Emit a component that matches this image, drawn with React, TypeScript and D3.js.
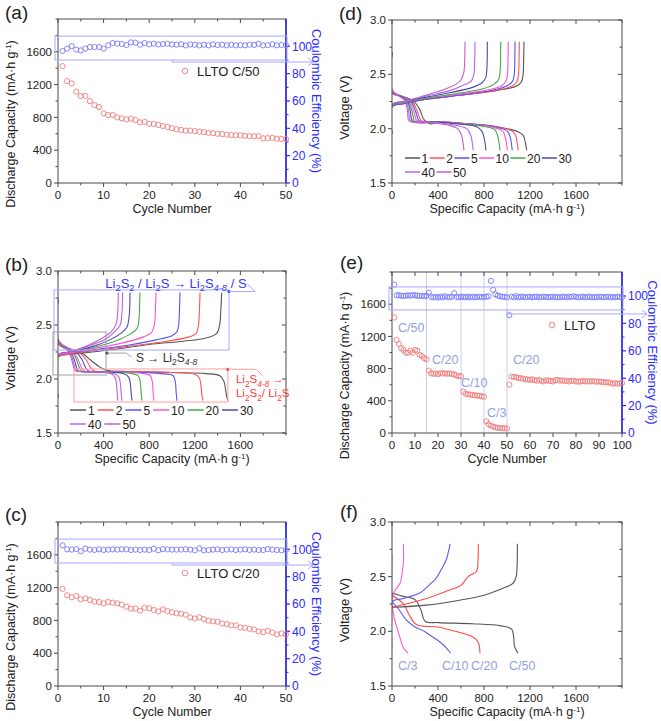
import React from "react";
import * as d3 from "d3";

type P = [number, number];
type Box = { x0: number; x1: number; y0: number; y1: number };

// ---------------- data ----------------
const capacityTicks = [0, 400, 800, 1200, 1600];
const ceTicks = [0, 20, 40, 60, 80, 100];
const cycleTicks50 = [0, 10, 20, 30, 40, 50];
const cycleTicks100 = [0, 10, 20, 30, 40, 50, 60, 70, 80, 90, 100];
const voltTicks = [1.5, 2.0, 2.5, 3.0];

const legendCycles = ["1", "2", "5", "10", "20", "30", "40", "50"];
const cycleColors = ["#555555", "#ff5252", "#5252ff", "#ff55d0", "#45a845", "#4b4ba8", "#b866e8", "#c460c8"];

// (a) LLTO C/50
const capA = [1425, 1243, 1214, 1113, 1060, 1062, 999, 950, 926, 849, 828, 830, 800, 788, 776, 784, 768, 740, 745, 722, 720, 708, 695, 683, 668, 655, 647, 638, 640, 633, 626, 620, 612, 607, 600, 596, 590, 585, 582, 580, 576, 572, 570, 572, 545, 548, 552, 540, 538, 536];
const ceA = [96.6, 98.3, 100.2, 97.6, 97.0, 98.3, 99.5, 99.5, 99.5, 98.3, 100.7, 102.4, 102.0, 101.7, 101.0, 102.9, 102.7, 101.2, 102.4, 101.5, 101.9, 101.4, 101.7, 101.9, 101.4, 101.2, 101.5, 100.7, 101.4, 101.2, 100.7, 101.2, 100.7, 101.4, 100.9, 101.2, 100.7, 101.2, 100.7, 100.9, 100.7, 101.2, 101.0, 101.9, 100.7, 100.9, 101.5, 100.7, 101.0, 100.8];

// (c) LLTO C/20
const capC = [1184, 1106, 1082, 1098, 1057, 1069, 1049, 1029, 1024, 1008, 1024, 1016, 1008, 992, 967, 943, 943, 918, 955, 947, 927, 910, 935, 914, 898, 886, 882, 869, 837, 824, 837, 816, 796, 788, 784, 763, 755, 739, 739, 714, 710, 698, 690, 665, 657, 673, 653, 629, 641, 629];
const ceC = [102.9, 100, 99.8, 100.2, 98.6, 100.5, 99.8, 99.5, 100, 99.5, 99.8, 100, 99.8, 100, 100, 99.5, 99.8, 99.5, 99.8, 99.5, 100.5, 99.3, 100.2, 100, 99.8, 99.8, 99.8, 100, 99.8, 99.3, 100.7, 99.3, 99.5, 99.8, 100, 99.5, 99.8, 100, 99.5, 99.8, 100, 99.5, 99.8, 99.5, 99.5, 100.2, 99.8, 99.5, 99.3, 99.5];

// (e) rate test
const capE = [
  1435, 1155, 1105, 1052, 1031, 998, 998, 1023, 998, 1031, 1023, 969, 957, 928, 915,
  775, 742, 735, 740, 730, 745, 738, 742, 735, 740, 735, 728, 715, 705, 705,
  515, 490, 480, 478, 472, 468, 465, 462, 455, 450,
  145, 110, 90, 78, 70, 65, 62, 60, 58, 57,
  600, 700, 698, 690, 686, 680, 675, 668, 665, 660, 668, 655, 650, 660, 645, 640, 655, 650, 648, 640,
  655, 660, 650, 655, 645, 650, 640, 648, 650, 640, 638, 640, 645, 640, 642, 640, 645, 640, 638, 640,
  635, 632, 630, 628, 625, 610, 620, 612, 618, 622,
];
const ceE = [
  108.3,
  100.5, 100.5, 100.2, 100.0, 100.2, 100.5, 100.2, 100.7, 100.5, 100.2, 100.0, 100.2, 99.8, 100.2,
  102.4,
  99.5, 99.0, 99.3, 98.8, 99.5, 99.0, 99.8, 99.3, 99.0, 99.5, 102.0, 99.3, 99.0, 99.5,
  99.3, 99.0, 99.5, 99.0, 99.5, 99.0, 99.3, 99.5, 99.0, 99.3,
  99.5, 99.8, 111.0, 104.5, 101.2, 100.2, 99.8, 99.3, 99.5, 99.0,
  86.0,
  99.5, 99.0, 99.8, 99.0, 99.3, 99.5, 99.0, 99.3, 99.5, 99.0, 99.3, 99.5, 99.0, 99.3, 99.5, 99.3, 99.0, 99.3, 99.5, 99.0,
  99.3, 99.0, 99.5, 99.3, 99.0, 99.5, 99.3, 99.8, 99.3, 99.0, 99.3, 99.5, 99.0, 99.3, 99.5, 99.0, 99.3, 99.0, 99.5, 99.3,
  99.0, 99.3, 99.5, 99.0, 99.3, 99.0, 99.5, 99.3, 99.0,
];
const rateBoundaries = [15, 30, 40, 50];
const rateLabels = ["C/50", "C/20", "C/10", "C/3", "C/20"];
const rateLabelCycle = [2.6, 17.4, 30, 41.3, 52.6];
const rateLabelCap = [1254, 857, 571, 199, 857];

// (b) C/50 voltage profiles, cycles 1,2,5,10,20,30,40,50
const bDischarge: P[][] = [
  [[0, 2.74], [0, 2.33], [100, 2.27], [208, 2.24], [280, 2.18], [368, 2.11], [427, 2.08], [600, 2.07], [1000, 2.06], [1300, 2.05], [1420, 2.03], [1455, 1.98], [1470, 1.9], [1482, 1.83], [1491, 1.8]],
  [[0, 2.74], [0, 2.34], [80, 2.29], [180, 2.25], [240, 2.19], [290, 2.1], [320, 2.075], [600, 2.07], [1000, 2.06], [1200, 2.045], [1240, 2.01], [1255, 1.93], [1262, 1.85], [1272, 1.8]],
  [[0, 2.74], [0, 2.35], [80, 2.29], [160, 2.25], [210, 2.18], [245, 2.1], [270, 2.075], [600, 2.065], [900, 2.05], [1010, 2.03], [1030, 1.97], [1036, 1.88], [1044, 1.8]],
  [[0, 2.74], [0, 2.35], [80, 2.29], [140, 2.25], [180, 2.17], [210, 2.1], [235, 2.075], [500, 2.065], [750, 2.05], [810, 2.03], [828, 1.97], [834, 1.88], [842, 1.8]],
  [[0, 2.74], [0, 2.35], [70, 2.29], [130, 2.25], [165, 2.17], [190, 2.1], [210, 2.075], [450, 2.065], [650, 2.05], [705, 2.03], [722, 1.97], [729, 1.88], [737, 1.8]],
  [[0, 2.74], [0, 2.36], [60, 2.3], [115, 2.25], [145, 2.17], [165, 2.1], [180, 2.075], [400, 2.065], [570, 2.05], [618, 2.02], [634, 1.96], [641, 1.88], [649, 1.8]],
  [[0, 2.74], [0, 2.36], [60, 2.3], [105, 2.25], [132, 2.17], [150, 2.1], [165, 2.075], [350, 2.065], [490, 2.05], [532, 2.02], [547, 1.96], [553, 1.88], [561, 1.8]],
  [[0, 2.76], [0, 2.37], [55, 2.3], [95, 2.25], [122, 2.17], [140, 2.1], [152, 2.075], [330, 2.065], [460, 2.05], [498, 2.02], [512, 1.96], [518, 1.88], [526, 1.8]],
];
const bCharge: P[][] = [
  [[0, 1.83], [0, 2.2], [100, 2.23], [300, 2.25], [600, 2.29], [800, 2.32], [1100, 2.35], [1300, 2.38], [1390, 2.42], [1418, 2.5], [1429, 2.65], [1436, 2.8]],
  [[0, 1.83], [0, 2.2], [100, 2.23], [300, 2.26], [600, 2.3], [900, 2.34], [1150, 2.39], [1210, 2.42], [1232, 2.5], [1241, 2.65], [1246, 2.8]],
  [[0, 1.83], [0, 2.21], [100, 2.24], [300, 2.27], [600, 2.31], [850, 2.36], [1000, 2.4], [1045, 2.44], [1060, 2.52], [1066, 2.65], [1070, 2.8]],
  [[0, 1.83], [0, 2.21], [100, 2.24], [300, 2.28], [550, 2.33], [750, 2.39], [820, 2.43], [845, 2.5], [855, 2.65], [860, 2.8]],
  [[0, 1.83], [0, 2.22], [100, 2.25], [300, 2.29], [500, 2.35], [640, 2.42], [695, 2.47], [710, 2.55], [715, 2.65], [719, 2.8]],
  [[0, 1.83], [0, 2.22], [100, 2.25], [300, 2.3], [450, 2.36], [560, 2.43], [605, 2.48], [622, 2.56], [629, 2.66], [632, 2.8]],
  [[0, 1.83], [0, 2.22], [100, 2.25], [280, 2.31], [420, 2.37], [500, 2.44], [545, 2.5], [560, 2.6], [567, 2.8]],
  [[0, 1.83], [0, 2.22], [100, 2.25], [260, 2.31], [390, 2.38], [470, 2.44], [510, 2.51], [524, 2.62], [529, 2.8]],
];

// (d) C/20 voltage profiles
const dDischarge: P[][] = [
  [[0, 2.7], [0, 2.33], [80, 2.3], [180, 2.26], [240, 2.18], [280, 2.08], [330, 2.045], [400, 2.06], [600, 2.05], [900, 2.02], [1100, 1.97], [1140, 1.94], [1160, 1.87], [1171, 1.8]],
  [[0, 2.7], [0, 2.33], [80, 2.3], [170, 2.26], [220, 2.16], [260, 2.07], [400, 2.065], [600, 2.05], [900, 2.02], [1040, 1.98], [1075, 1.94], [1090, 1.86], [1098, 1.8]],
  [[0, 2.7], [0, 2.34], [80, 2.3], [160, 2.26], [205, 2.16], [240, 2.07], [400, 2.065], [600, 2.05], [880, 2.02], [1000, 1.98], [1028, 1.92], [1040, 1.85], [1046, 1.8]],
  [[0, 2.7], [0, 2.34], [80, 2.3], [150, 2.26], [190, 2.16], [220, 2.07], [400, 2.065], [600, 2.05], [850, 2.02], [960, 1.98], [985, 1.92], [997, 1.85], [1003, 1.8]],
  [[0, 2.7], [0, 2.35], [70, 2.3], [140, 2.26], [175, 2.16], [200, 2.07], [400, 2.06], [600, 2.045], [800, 2.02], [895, 1.99], [920, 1.93], [932, 1.86], [939, 1.8]],
  [[0, 2.7], [0, 2.35], [70, 2.3], [130, 2.26], [160, 2.16], [180, 2.07], [400, 2.06], [600, 2.04], [730, 2.02], [780, 1.98], [800, 1.92], [810, 1.86], [817, 1.8]],
  [[0, 2.7], [0, 2.35], [60, 2.3], [120, 2.26], [145, 2.16], [165, 2.07], [400, 2.055], [560, 2.03], [650, 2.0], [685, 1.94], [698, 1.87], [707, 1.8]],
  [[0, 2.7], [0, 2.36], [60, 2.3], [110, 2.26], [135, 2.16], [150, 2.07], [350, 2.055], [500, 2.03], [570, 2.0], [605, 1.94], [618, 1.87], [626, 1.8]],
];
const dCharge: P[][] = [
  [[0, 1.95], [0, 2.2], [100, 2.23], [300, 2.27], [600, 2.31], [900, 2.35], [1080, 2.39], [1125, 2.43], [1140, 2.5], [1145, 2.65], [1148, 2.8]],
  [[0, 1.95], [0, 2.2], [100, 2.23], [300, 2.27], [600, 2.31], [900, 2.35], [1040, 2.39], [1085, 2.43], [1100, 2.5], [1105, 2.65], [1107, 2.8]],
  [[0, 1.95], [0, 2.2], [100, 2.23], [300, 2.27], [600, 2.31], [900, 2.36], [1010, 2.4], [1050, 2.44], [1063, 2.5], [1068, 2.65], [1070, 2.8]],
  [[0, 1.95], [0, 2.21], [100, 2.24], [300, 2.28], [600, 2.32], [850, 2.36], [960, 2.4], [995, 2.45], [1006, 2.52], [1009, 2.65], [1011, 2.8]],
  [[0, 1.95], [0, 2.21], [100, 2.24], [300, 2.28], [600, 2.33], [800, 2.37], [890, 2.41], [930, 2.46], [940, 2.53], [945, 2.8]],
  [[0, 1.95], [0, 2.22], [100, 2.25], [300, 2.29], [500, 2.33], [700, 2.38], [780, 2.42], [815, 2.47], [825, 2.55], [829, 2.8]],
  [[0, 1.95], [0, 2.22], [100, 2.25], [300, 2.3], [500, 2.35], [620, 2.4], [690, 2.44], [712, 2.5], [718, 2.6], [722, 2.8]],
  [[0, 1.95], [0, 2.22], [100, 2.25], [300, 2.31], [450, 2.36], [560, 2.41], [600, 2.45], [625, 2.52], [632, 2.62], [635, 2.8]],
];

// (f) rate profiles: C/50, C/20, C/10, C/3
const fRates = ["C/50", "C/20", "C/10", "C/3"];
const fColors = ["#555555", "#ff4a4a", "#5a5aff", "#ff5ad0"];
const fDischarge: P[][] = [
  [[0, 2.35], [100, 2.32], [200, 2.29], [250, 2.2], [290, 2.09], [400, 2.08], [700, 2.07], [950, 2.05], [1040, 2.02], [1058, 1.95], [1066, 1.86], [1095, 1.8]],
  [[0, 2.33], [100, 2.25], [150, 2.15], [215, 2.06], [400, 2.04], [550, 2.0], [700, 1.95], [750, 1.9], [765, 1.8]],
  [[0, 2.35], [0, 2.28], [60, 2.2], [128, 2.1], [200, 2.04], [280, 2.0], [350, 1.95], [420, 1.9], [480, 1.84], [510, 1.8]],
  [[0, 2.7], [0, 2.25], [20, 2.12], [41, 2.04], [70, 1.94], [99, 1.85], [141, 1.8]],
];
const fCharge: P[][] = [
  [[0, 2.22], [300, 2.24], [562, 2.28], [800, 2.33], [980, 2.4], [1055, 2.44], [1080, 2.5], [1088, 2.6], [1090, 2.8]],
  [[0, 2.22], [300, 2.3], [532, 2.39], [600, 2.42], [662, 2.5], [736, 2.55], [748, 2.65], [750, 2.8]],
  [[0, 2.1], [0, 2.27], [100, 2.3], [240, 2.35], [330, 2.43], [380, 2.48], [420, 2.55], [470, 2.65], [505, 2.8]],
  [[0, 1.85], [0, 2.3], [30, 2.38], [70, 2.44], [90, 2.55], [99, 2.62], [100, 2.8]],
];
const fLabelCap = [1017, 687, 435, 52];
const fLabelVolt = 1.642;

// ---------------- style ----------------
const FONT = "'Liberation Sans', Arial, Helvetica, sans-serif";
const INK = "#222222";
const FRAME = "#4a4a4a";
const AXIS_BLUE = "#2b2bff";
const CAP_RED = "#f27a7a";
const CE_BLUE = "#7878ff";
const BOX_BLUE = "#a8a8ff";
const RATE_BLUE = "#8ea3dd";
const TICK_FS = 11.5;
const TITLE_FS = 12.5;

const boxes: Record<string, Box> = {
  a: { x0: 58, x1: 286, y0: 19, y1: 183 },
  b: { x0: 58, x1: 286, y0: 271, y1: 433 },
  c: { x0: 58, x1: 286, y0: 522, y1: 686 },
  d: { x0: 392, x1: 622, y0: 20, y1: 183 },
  e: { x0: 392, x1: 622, y0: 272, y1: 433 },
  f: { x0: 392, x1: 622, y0: 522, y1: 686 },
};

const fmtV = d3.format(".1f");

function CapTitle({ x, y, rotate }: { x: number; y: number; rotate?: boolean }) {
  return (
    <text x={x} y={y} textAnchor="middle" fontSize={TITLE_FS} fill={INK}
      transform={rotate ? `rotate(-90 ${x} ${y})` : undefined}>
      {rotate ? "Discharge Capacity (mA·h g" : "Specific Capacity (mA·h g"}
      <tspan dy={-4.5} fontSize={8}>-1</tspan>
      <tspan dy={4.5}>)</tspan>
    </text>
  );
}

function XAxis({ x, box, major, minorStep, fmt }: any) {
  const [d0, d1] = x.domain();
  const minor = d3.range(d0, d1 + 1e-9, minorStep).filter((v: number) => !major.includes(v));
  return (
    <g>
      {major.map((v: number) => (
        <g key={"M" + v}>
          <line x1={x(v)} x2={x(v)} y1={box.y1} y2={box.y1 + 4} stroke={FRAME} />
          <line x1={x(v)} x2={x(v)} y1={box.y0} y2={box.y0 + 4} stroke={FRAME} />
          <text x={x(v)} y={box.y1 + 15.5} textAnchor="middle" fontSize={TICK_FS} fill={INK}>{fmt(v)}</text>
        </g>
      ))}
      {minor.map((v: number) => (
        <g key={"m" + v}>
          <line x1={x(v)} x2={x(v)} y1={box.y1} y2={box.y1 + 2.5} stroke={FRAME} />
          <line x1={x(v)} x2={x(v)} y1={box.y0} y2={box.y0 + 2.5} stroke={FRAME} />
        </g>
      ))}
    </g>
  );
}

function YAxisLeft({ y, box, major, minorStep, fmt, mirror }: any) {
  const [d0, d1] = y.domain();
  const minor = d3.range(d0, d1 + 1e-9, minorStep).filter((v: number) => !major.some((m: number) => Math.abs(m - v) < 1e-9));
  return (
    <g>
      {major.map((v: number) => (
        <g key={"M" + v}>
          <line x1={box.x0 - 4} x2={box.x0} y1={y(v)} y2={y(v)} stroke={FRAME} />
          {mirror && <line x1={box.x1 - 4} x2={box.x1} y1={y(v)} y2={y(v)} stroke={FRAME} />}
          <text x={box.x0 - 6} y={y(v)} dy="0.36em" textAnchor="end" fontSize={TICK_FS} fill={INK}>{fmt(v)}</text>
        </g>
      ))}
      {minor.map((v: number) => (
        <g key={"m" + v}>
          <line x1={box.x0 - 2.5} x2={box.x0} y1={y(v)} y2={y(v)} stroke={FRAME} />
          {mirror && <line x1={box.x1 - 2.5} x2={box.x1} y1={y(v)} y2={y(v)} stroke={FRAME} />}
        </g>
      ))}
    </g>
  );
}

function PanelLabel({ x, y, t }: { x: number; y: number; t: string }) {
  return <text x={x} y={y} fontSize={19} fill={INK}>{t}</text>;
}

function CyclePanel({ box, xMax, xMajor, ceMax, cap, ce, legendText, legendDx, legendDy, boxCe, arrowCycle, arrowCe, arrowEnd, behind, front }: any) {
  const x = d3.scaleLinear().domain([0, xMax]).range([box.x0, box.x1]);
  const y = d3.scaleLinear().domain([0, 2000]).range([box.y1, box.y0]);
  const y2 = d3.scaleLinear().domain([0, ceMax]).range([box.y1, box.y0]);
  const cx = (box.x0 + box.x1) / 2;
  const cy = (box.y0 + box.y1) / 2;
  const ceMinor = d3.range(10, 101, 20);
  const ay = y2(arrowCe);
  const ax = x(arrowCycle);
  return (
    <g>
      {behind && behind(x, y)}
      <rect x={box.x0} y={box.y0} width={box.x1 - box.x0} height={box.y1 - box.y0} fill="none" stroke={FRAME} />
      <XAxis x={x} box={box} major={xMajor} minorStep={xMax / 10} fmt={(v: number) => String(v)} />
      <YAxisLeft y={y} box={box} major={capacityTicks} minorStep={200} fmt={(v: number) => String(v)} />
      <line x1={box.x1} x2={box.x1} y1={box.y0} y2={box.y1} stroke={AXIS_BLUE} strokeWidth={1.6} />
      {ceTicks.map((v) => (
        <g key={"ce" + v}>
          <line x1={box.x1} x2={box.x1 + 4} y1={y2(v)} y2={y2(v)} stroke={AXIS_BLUE} strokeWidth={1.2} />
          <text x={box.x1 + 6} y={y2(v)} dy="0.36em" fontSize={TICK_FS + 0.5} fill={AXIS_BLUE}>{v}</text>
        </g>
      ))}
      {ceMinor.map((v) => (
        <line key={"cm" + v} x1={box.x1} x2={box.x1 + 2.5} y1={y2(v)} y2={y2(v)} stroke={AXIS_BLUE} />
      ))}
      {cap.map((v: number, i: number) => (
        <circle key={"c" + i} cx={x(i + 1)} cy={y(v)} r={2.6} fill="none" stroke={CAP_RED} strokeWidth={0.9} />
      ))}
      {ce.map((v: number, i: number) => (
        <circle key={"e" + i} cx={x(i + 1)} cy={y2(v)} r={2.6} fill="none" stroke={CE_BLUE} strokeWidth={0.9} />
      ))}
      <rect x={box.x0 - 3} y={y2(boxCe[1])} width={box.x1 - box.x0 + 4} height={y2(boxCe[0]) - y2(boxCe[1])}
        fill="none" stroke={BOX_BLUE} strokeWidth={1} />
      <path d={`M${ax},${y2(boxCe[0])}V${ay}H${arrowEnd}`} fill="none" stroke={BOX_BLUE} strokeWidth={1} />
      <path d={`M${arrowEnd - 5},${ay - 4}L${arrowEnd},${ay}L${arrowEnd - 5},${ay + 4}`} fill="none" stroke={BOX_BLUE} strokeWidth={1} />
      <circle cx={box.x0 + legendDx} cy={box.y0 + legendDy} r={2.8} fill="none" stroke={CAP_RED} strokeWidth={0.9} />
      <text x={box.x0 + legendDx + 12} y={box.y0 + legendDy + 4.5} fontSize={13} fill={INK}>{legendText}</text>
      {front && front(x, y)}
      <text x={cx} y={box.y1 + 30} textAnchor="middle" fontSize={TITLE_FS} fill={INK}>Cycle Number</text>
      <CapTitle x={box.x0 - 43} y={cy + 23} rotate />
      <text x={box.x1 + 26} y={cy} textAnchor="middle" fontSize={13} fill={AXIS_BLUE}
        transform={`rotate(90 ${box.x1 + 26} ${cy})`}>Coulombic Efficiency (%)</text>
    </g>
  );
}

function VoltagePanel({ box, id, curves, front }: any) {
  const x = d3.scaleLinear().domain([0, 2000]).range([box.x0, box.x1]);
  const y = d3.scaleLinear().domain([1.5, 3.0]).range([box.y1, box.y0]);
  const line = d3.line<P>().x((d) => x(d[0])).y((d) => y(d[1])).curve(d3.curveCatmullRom.alpha(0.5));
  const cx = (box.x0 + box.x1) / 2;
  const cy = (box.y0 + box.y1) / 2;
  return (
    <g>
      <defs>
        <clipPath id={"clip" + id}>
          <rect x={box.x0} y={box.y0} width={box.x1 - box.x0} height={box.y1 - box.y0} />
        </clipPath>
      </defs>
      <g clipPath={`url(#clip${id})`}>
        {curves.map((c: any, i: number) => (
          <path key={i} d={line(c.pts) || ""} fill="none" stroke={c.color} strokeWidth={1.1} />
        ))}
      </g>
      <rect x={box.x0} y={box.y0} width={box.x1 - box.x0} height={box.y1 - box.y0} fill="none" stroke={FRAME} />
      <XAxis x={x} box={box} major={capacityTicks} minorStep={200} fmt={(v: number) => String(v)} />
      <YAxisLeft y={y} box={box} major={voltTicks} minorStep={0.25} fmt={fmtV} mirror />
      {front && front(x, y)}
      <CapTitle x={cx} y={box.y1 + 30} />
      <text x={box.x0 - 43} y={cy + 6} textAnchor="middle" fontSize={13} fill={INK}
        transform={`rotate(-90 ${box.x0 - 43} ${cy + 6})`}>Voltage (V)</text>
    </g>
  );
}

function CycleLegend({ x, y, lineLen, textGap, gap }: any) {
  const items: any[] = [];
  let cx = x;
  let row = 0;
  legendCycles.forEach((lab, i) => {
    if (i === 6) { row = 1; cx = x; }
    const yy = y + row * 14;
    const tw = lab.length * 6.7;
    items.push(
      <g key={lab}>
        <line x1={cx} x2={cx + lineLen} y1={yy} y2={yy} stroke={cycleColors[i]} strokeWidth={1.5} />
        <text x={cx + lineLen + textGap} y={yy + 4.5} fontSize={12} fill={INK}>{lab}</text>
      </g>
    );
    cx += lineLen + textGap + tw + gap;
  });
  return <g>{items}</g>;
}

function Chem({ x, y, parts, fill, size }: any) {
  let shifted = false;
  const sh = size * 0.28;
  const spans = parts.map(([t, k]: [string, string], i: number) => {
    const sub = k !== "n";
    let dy = 0;
    if (sub && !shifted) { dy = sh; shifted = true; }
    else if (!sub && shifted) { dy = -sh; shifted = false; }
    return (
      <tspan key={i} dy={dy} fontSize={sub ? size * 0.72 : size} fontStyle={k === "si" ? "italic" : "normal"}>{t}</tspan>
    );
  });
  return <text x={x} y={y} fill={fill} fontSize={size}>{spans}</text>;
}

export default function App() {
  const bCurves = [
    ...bDischarge.map((pts, i) => ({ pts, color: cycleColors[i] })),
    ...bCharge.map((pts, i) => ({ pts, color: cycleColors[i] })),
  ];
  const dCurves = [
    ...dDischarge.map((pts, i) => ({ pts, color: cycleColors[i] })),
    ...dCharge.map((pts, i) => ({ pts, color: cycleColors[i] })),
  ];
  const fCurves = [
    ...fDischarge.map((pts, i) => ({ pts, color: fColors[i] })),
    ...fCharge.map((pts, i) => ({ pts, color: fColors[i] })),
  ];

  const bFront = (x: any, y: any) => {
    const blue = "#3535ff";
    const red = "#ff3b3b";
    return (
      <g>
        <rect x={x(-35)} y={y(2.825)} width={x(1500) - x(-35)} height={y(2.268) - y(2.825)} fill="none" stroke={BOX_BLUE} />
        <circle cx={x(1500)} cy={y(2.81)} r={1.6} fill={blue} />
        <path d={`M${x(1500)},${y(2.81)}H${x(1730)}L${x(1660)},${y(2.88)}`} fill="none" stroke={BOX_BLUE} />
        <Chem x={x(415)} y={y(2.845)} fill={blue} size={13}
          parts={[["Li", "n"], ["2", "s"], ["S", "n"], ["2", "s"], [" / Li", "n"], ["2", "s"], ["S → Li", "n"], ["2", "s"], ["S", "n"], ["4-8", "si"], [" / S", "n"]]} />
        <rect x={x(-44)} y={y(2.435)} width={x(421) - x(-44)} height={y(2.037) - y(2.435)} fill="none" stroke="#a0a0a0" />
        <circle cx={x(430)} cy={y(2.24)} r={1.6} fill="#444" />
        <path d={`M${x(430)},${y(2.24)}H${x(600)}L${x(640)},${y(2.205)}`} fill="none" stroke="#a0a0a0" />
        <Chem x={x(684)} y={y(2.16)} fill="#333" size={12}
          parts={[["S → Li", "n"], ["2", "s"], ["S", "n"], ["4-8", "si"]]} />
        <rect x={x(140)} y={y(2.093)} width={x(1490) - x(140)} height={y(1.787) - y(2.093)} fill="none" stroke="#ffa0a0" />
        <circle cx={x(1490)} cy={y(2.09)} r={1.6} fill={red} />
        <path d={`M${x(1490)},${y(2.09)}H${x(1740)}L${x(1800)},${y(2.025)}`} fill="none" stroke="#ffa0a0" />
        <Chem x={x(1561)} y={y(1.96)} fill={red} size={11.5}
          parts={[["Li", "n"], ["2", "s"], ["S", "n"], ["4-8", "si"], [" →", "n"]]} />
        <Chem x={x(1561)} y={y(1.83)} fill={red} size={11.5}
          parts={[["Li", "n"], ["2", "s"], ["S", "n"], ["2", "s"], ["/ Li", "n"], ["2", "s"], ["S", "n"]]} />
        <CycleLegend x={70} y={410} lineLen={16} textGap={2} gap={3} />
      </g>
    );
  };

  const eBehind = (x: any) => (
    <g>
      {rateBoundaries.map((c) => (
        <line key={c} x1={x(c)} x2={x(c)} y1={boxes.e.y0} y2={boxes.e.y1} stroke="#c8cdf5" strokeWidth={1} />
      ))}
    </g>
  );
  const eFront = (x: any, y: any) => (
    <g>
      {rateLabels.map((t, i) => (
        <text key={i} x={x(rateLabelCycle[i])} y={y(rateLabelCap[i])} fontSize={12.5} fill={RATE_BLUE}>{t}</text>
      ))}
    </g>
  );
  const fFront = (x: any, y: any) => (
    <g>
      {fRates.map((t, i) => (
        <text key={t} x={x(fLabelCap[i])} y={y(fLabelVolt)} fontSize={12.5} fill={RATE_BLUE}>{t}</text>
      ))}
    </g>
  );

  return (
    <svg width={661} height={721} viewBox="0 0 661 721" fontFamily={FONT}
      style={{ position: "absolute", left: 0, top: 0, background: "#fff" }}>
      <rect width={661} height={721} fill="#fff" />
      <CyclePanel box={boxes.a} xMax={50} xMajor={cycleTicks50} ceMax={120} cap={capA} ce={ceA}
        legendText="LLTO C/50" legendDx={127} legendDy={52} boxCe={[90, 107.5]} arrowCycle={25} arrowCe={88.5} arrowEnd={313} />
      <CyclePanel box={boxes.c} xMax={50} xMajor={cycleTicks50} ceMax={120} cap={capC} ce={ceC}
        legendText="LLTO C/20" legendDx={127} legendDy={51} boxCe={[90, 107.5]} arrowCycle={25} arrowCe={88.5} arrowEnd={313} />
      <CyclePanel box={boxes.e} xMax={100} xMajor={cycleTicks100} ceMax={117.5} cap={capE} ce={ceE}
        legendText="LLTO" legendDx={160} legendDy={53} boxCe={[89.8, 106.6]} arrowCycle={50} arrowCe={86.9} arrowEnd={647}
        behind={eBehind} front={eFront} />
      <VoltagePanel box={boxes.b} id="b" curves={bCurves} front={bFront} />
      <VoltagePanel box={boxes.d} id="d" curves={dCurves}
        front={() => <CycleLegend x={405} y={158} lineLen={15} textGap={1.5} gap={1.5} />} />
      <VoltagePanel box={boxes.f} id="f" curves={fCurves} front={fFront} />
      <PanelLabel x={5} y={19} t="(a)" />
      <PanelLabel x={5} y={271} t="(b)" />
      <PanelLabel x={5} y={521} t="(c)" />
      <PanelLabel x={339} y={20} t="(d)" />
      <PanelLabel x={340} y={269} t="(e)" />
      <PanelLabel x={340} y={518} t="(f)" />
    </svg>
  );
}
